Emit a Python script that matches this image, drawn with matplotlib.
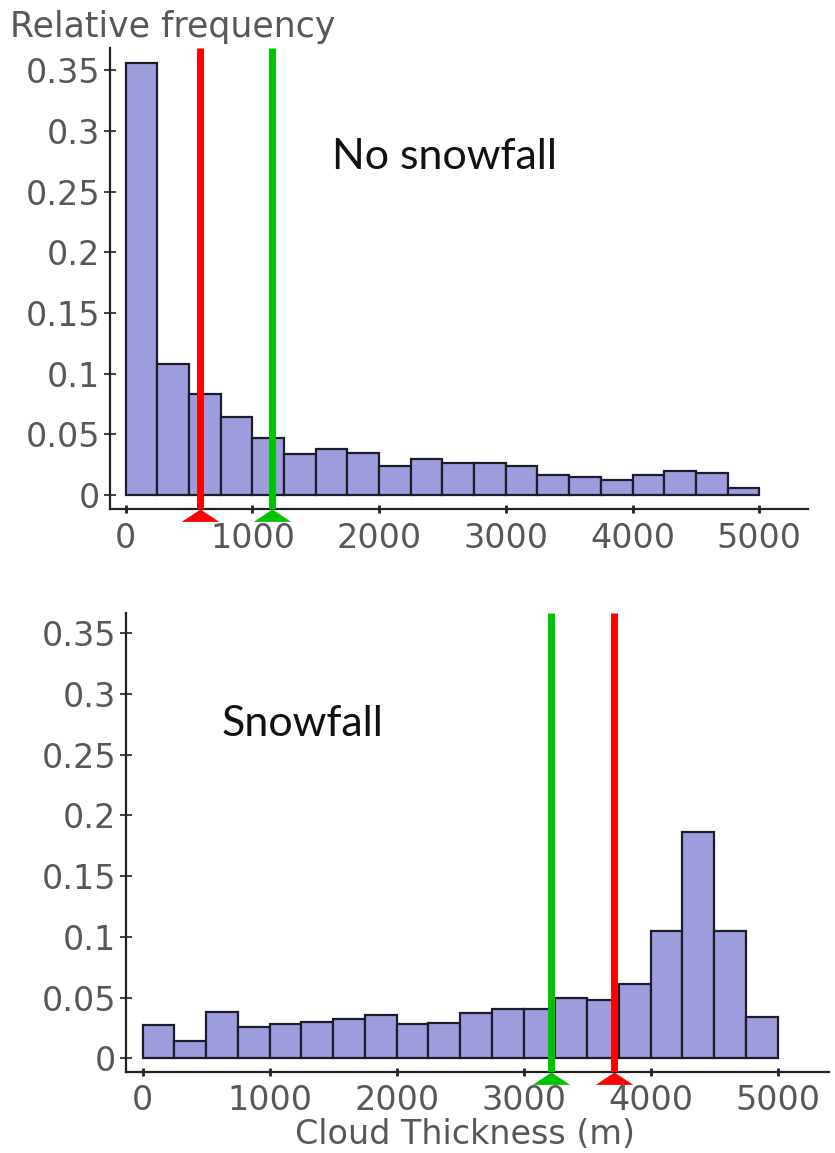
import matplotlib
matplotlib.use("Agg")
import matplotlib.pyplot as plt
import numpy as np

# ---------------- data ----------------
bin_edges = [0, 250, 500, 750, 1000, 1250, 1500, 1750, 2000, 2250, 2500,
             2750, 3000, 3250, 3500, 3750, 4000, 4250, 4500, 4750, 5000]
no_snow_freq = [0.356, 0.108, 0.0836, 0.0643, 0.0473, 0.034, 0.038, 0.0346,
                0.024, 0.030, 0.0266, 0.0266, 0.0239, 0.0165, 0.0146, 0.0124,
                0.0165, 0.0198, 0.0184, 0.0055]
snow_freq = [0.0273, 0.0145, 0.038, 0.0258, 0.028, 0.030, 0.032, 0.036,
             0.028, 0.0288, 0.0371, 0.0404, 0.0406, 0.0494, 0.048, 0.0612,
             0.1049, 0.1867, 0.1049, 0.0338]
no_snow_red = 585     # red marker line, no snowfall
no_snow_green = 1152  # green marker line, no snowfall
snow_green = 3213
snow_red = 3713
yticks = [0, 0.05, 0.1, 0.15, 0.2, 0.25, 0.3, 0.35]
ytick_labels = ["0", "0.05", "0.1", "0.15", "0.2", "0.25", "0.3", "0.35"]
xticks = [0, 1000, 2000, 3000, 4000, 5000]
xtick_labels = ["0", "1000", "2000", "3000", "4000", "5000"]
ylabel = "Relative frequency"
xlabel = "Cloud Thickness (m)"
title_top = "No snowfall"
title_bottom = "Snowfall"

# ---------------- styling ----------------
W, H = 835, 1153
BAR_FC = "#9d9ddd"
BAR_EC = "#1c1c2c"
RED = "#ff0000"
GREEN = "#00c400"
TICK_COLOR = "#585858"
SPINE_COLOR = "#222222"
FS = 24

fig = plt.figure(figsize=(W / 100, H / 100), dpi=100)


def px_axes(left, right, top, bottom):
    return fig.add_axes([left / W, 1 - bottom / H, (right - left) / W, (bottom - top) / H])


ax1 = px_axes(110, 808, 48.3, 509.3)
ax2 = px_axes(126, 829.3, 612.7, 1071.7)

edges = np.array(bin_edges)
widths = np.diff(edges)

tri = [(-1.0, -0.66), (1.0, -0.66), (0.0, 0.0), (-1.0, -0.66)]


def setup(ax, freq, xlim, ylim, lines):
    ax.bar(edges[:-1], freq, width=widths, align="edge", color=BAR_FC,
           edgecolor=BAR_EC, linewidth=1.6, zorder=2)
    ax.set_xlim(*xlim)
    ax.set_ylim(*ylim)
    for s in ["top", "right"]:
        ax.spines[s].set_visible(False)
    for s in ["left", "bottom"]:
        ax.spines[s].set_linewidth(1.6)
        ax.spines[s].set_color(SPINE_COLOR)
    ax.set_yticks(yticks)
    ax.set_yticklabels(ytick_labels)
    ax.set_xticks(xticks)
    ax.set_xticklabels(xtick_labels)
    ax.tick_params(axis="y", direction="inout", length=8, width=1.2,
                   color=SPINE_COLOR, labelsize=FS, labelcolor=TICK_COLOR, pad=3)
    ax.tick_params(axis="x", direction="inout", length=6, width=2,
                   color=SPINE_COLOR, labelsize=FS, labelcolor=TICK_COLOR, pad=6)
    for x, c in lines:
        ax.axvline(x, color=c, lw=5, zorder=4, solid_capstyle="butt")
        ax.plot([x], [ylim[0]], marker=tri, markersize=27, color=c,
                markeredgewidth=0, clip_on=False, zorder=5)


setup(ax1, no_snow_freq, (-124, 5385), (-0.0118, 0.368),
      [(no_snow_red, RED), (no_snow_green, GREEN)])
setup(ax2, snow_freq, (-131, 5406), (-0.011, 0.367),
      [(snow_green, GREEN), (snow_red, RED)])

fig.text(10 / W, 1 - 37 / H, ylabel, fontsize=25, color=TICK_COLOR,
         ha="left", va="baseline")
fig.text(465 / W, 1 - 1144 / H, xlabel, fontsize=24, color=TICK_COLOR,
         ha="center", va="baseline")
fig.text(331.7 / W, 1 - 169.3 / H, title_top, fontsize=31, family="Lato",
         color="#111111", ha="left", va="baseline")
fig.text(221.7 / W, 1 - 736 / H, title_bottom, fontsize=31, family="Lato",
         color="#111111", ha="left", va="baseline")

fig.savefig("out.png", dpi=100)
